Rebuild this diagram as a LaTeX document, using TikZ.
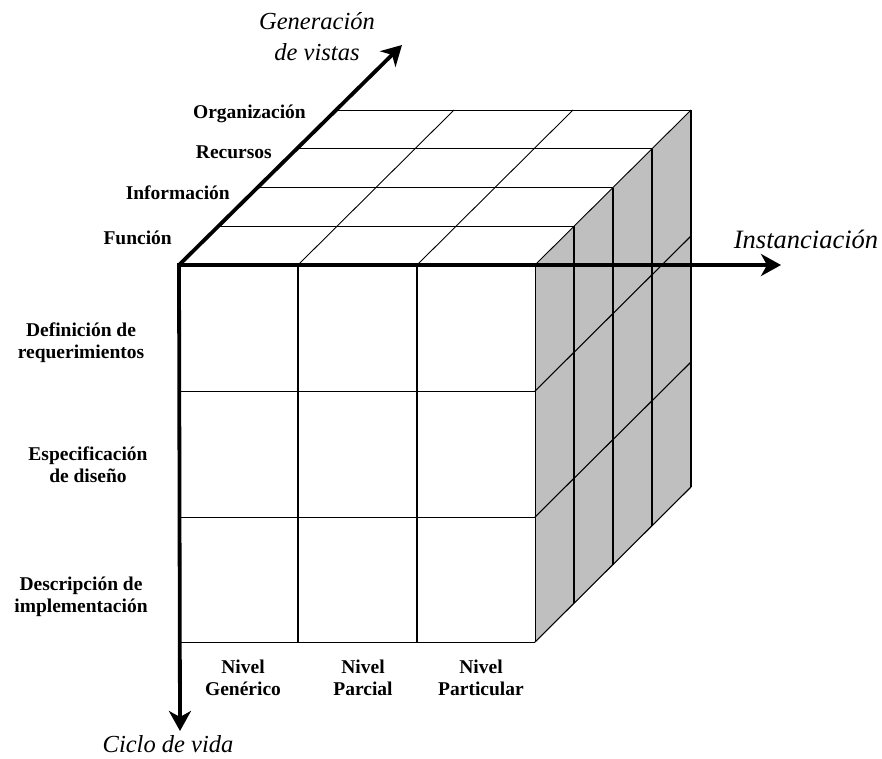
\documentclass[tikz,border=0pt]{standalone}
\usepackage{fontspec}
\setmainfont{Liberation Serif}
\usetikzlibrary{arrows.meta}
\begin{document}
\begin{tikzpicture}[x=1pt,y=-1pt,
  gridline/.style={line width=0.9pt},
  colline/.style={line width=1.3pt},
  sideline/.style={line width=1.1pt},
  tip/.style={Stealth[length=20pt,width=22pt,inset=6pt]},
  axis/.style={line width=3.8pt,line join=miter,{Stealth[length=20pt,width=22pt,inset=6pt]}-{Stealth[length=20pt,width=22pt,inset=6pt]}},
  axisone/.style={line width=3.8pt,line cap=round,-{Stealth[length=20pt,width=22pt,inset=6pt]}},
  cat/.style={font=\bfseries\fontsize{19.5}{22}\selectfont, align=center, inner sep=0pt},
  axislabel/.style={font=\itshape\fontsize{24.5}{31}\selectfont, align=center, inner sep=0pt},
  sideshade/.style={fill=black!25}]
\useasboundingbox (0,0) rectangle (882,758);

% corners of the cube (front face and depth)
\coordinate (O) at (179,265);
\coordinate (FTR) at (535,265);
\coordinate (FBR) at (535,642);
\coordinate (BTR) at (691,110);
\coordinate (BBR) at (691,487);

% shaded right-hand face
\fill[sideshade] (FTR) -- (BTR) -- (BBR) -- (FBR) -- cycle;

% top face: layers and diagonals
\foreach \k in {1,...,4}
  \draw[gridline] ({179+39*\k},{265-38.75*\k}) -- ({535+39*\k},{265-38.75*\k});
\foreach \x in {298,417,535}
  \draw[gridline] (\x,265) -- ++(156,-155);

% right face: layer verticals and row diagonals
\foreach \k in {1,...,4}
  \draw[sideline] ({535+39*\k},{265-38.75*\k}) -- ++(0,377);
\foreach \y in {391,517,642}
  \draw[sideline] (535,\y) -- ++(156,-155);

% front face grid
\foreach \x in {298,417}
  \draw[colline] (\x,265) -- (\x,642);
\draw[gridline] (FTR) -- (FBR);
\foreach \y in {391,517,642}
  \draw[gridline] (179,\y) -- (535,\y);

% axes
\coordinate (Vend) at (180,731);
\coordinate (Hend) at (781,265);
\coordinate (Dend) at (402,45);
\draw[axis] (Vend) -- (O) -- (Hend);
\draw[axisone] (O) -- (Dend);

% axis titles
\node[axislabel] (gen) at (317,37) {Generación\\de vistas};
\node[axislabel, font=\itshape\fontsize{26.5}{31}\selectfont] (inst) at (806,239) {Instanciación};
\node[axislabel] (ciclo) at (168,744) {Ciclo de vida};

% views along the depth axis
\node[cat, anchor=east] (org) at (306,114) {Organización};
\node[cat, anchor=east] (rec) at (272,152) {Recursos};
\node[cat, anchor=east] (inf) at (230,193) {Información};
\node[cat, anchor=east] (fun) at (172,238) {Función};

% life-cycle phases
\node[cat] (def) at (81,343) {Definición de\\requerimientos};
\node[cat] (esp) at (88,465) {Especificación\\de diseño};
\node[cat] (des) at (81,597) {Descripción de\\implementación};

% instantiation levels
\node[cat] (gen1) at (243,678) {Nivel\\Genérico};
\node[cat] (par1) at (363,678) {Nivel\\Parcial};
\node[cat] (par2) at (481,678) {Nivel\\Particular};
\end{tikzpicture}
\end{document}
